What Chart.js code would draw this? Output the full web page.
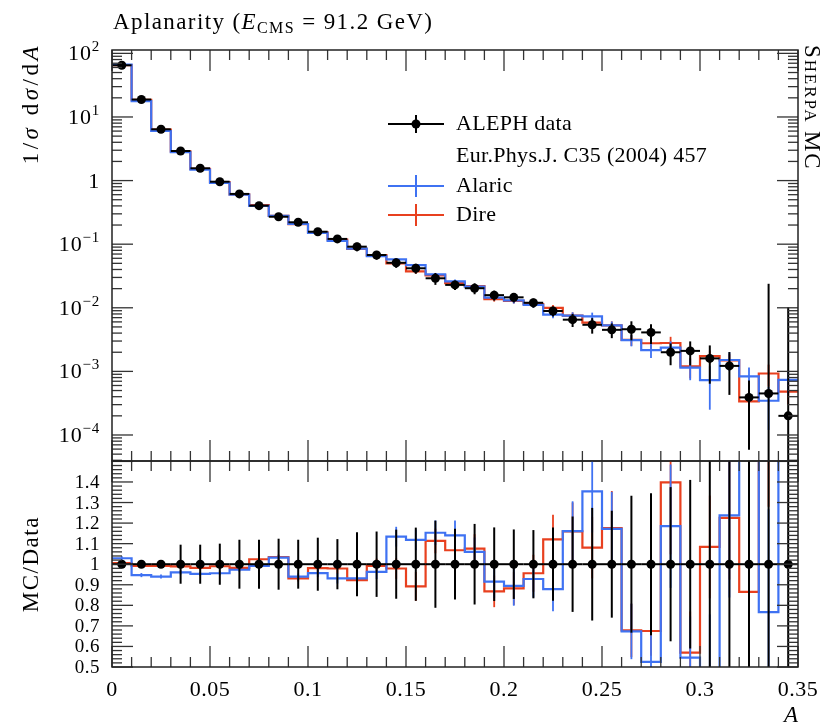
<!DOCTYPE html>
<html>
<head>
<meta charset="utf-8">
<script src="https://cdn.jsdelivr.net/npm/chart.js@4.4.0/dist/chart.umd.min.js"></script>
<style>
  body { margin: 0; background: #fff; width: 826px; height: 726px; position: relative; overflow: hidden; }
  canvas { position: absolute; left: 0; }
  #topChart { top: 0; }
  #ratioChart { top: 455px; }
</style>
</head>
<body>
<canvas id="topChart" width="826" height="470"></canvas>
<canvas id="ratioChart" width="826" height="271"></canvas>
<script>
// bins of A
const binEdges = [0, 0.01, 0.02, 0.03, 0.04, 0.05, 0.06, 0.07, 0.08, 0.09, 0.1, 0.11, 0.12, 0.13, 0.14, 0.15, 0.16, 0.17,
  0.18, 0.19, 0.2, 0.21, 0.22, 0.23, 0.24, 0.25, 0.26, 0.27, 0.28, 0.29, 0.3, 0.31, 0.32, 0.33, 0.34, 0.35];

// ALEPH data, 1/sigma dsigma/dA, and relative error
const alephData = [65, 18.8, 6.4, 2.92, 1.56, 0.96, 0.617, 0.403, 0.27, 0.221, 0.157, 0.121, 0.0914, 0.0676, 0.051,
  0.0418, 0.0291, 0.0229, 0.0203, 0.0158, 0.0146, 0.012, 0.0089, 0.0065, 0.0054, 0.0045, 0.0046, 0.0041, 0.002,
  0.0021, 0.0016, 0.00122, 0.00039, 0.00045, 0.0002];
const alephErr = [0.01, 0.01, 0.012, 0.095, 0.095, 0.1, 0.119, 0.119, 0.124, 0.119, 0.129, 0.122, 0.156, 0.159, 0.168,
  0.178, 0.212, 0.172, 0.196, 0.179, 0.169, 0.166, 0.178, 0.232, 0.274, 0.26, 0.333, 0.345, 0.375, 0.41, 0.6, 0.65,
  0.85, 52, 50];

// MC / data ratios and their errors
const alaricRatio = [1.029, 0.947, 0.94, 0.96, 0.953, 0.956, 0.973, 0.992, 1.032, 0.94, 0.957, 0.931, 0.931, 0.963,
  1.134, 1.118, 1.153, 1.14, 1.06, 0.915, 0.895, 0.928, 0.879, 1.161, 1.354, 1.172, 0.673, 0.525, 1.185, 0.546,
  0.456, 1.238, 2.14, 0.767, 3.68];
const alaricErr = [0.01, 0.01, 0.01, 0.01, 0.01, 0.01, 0.01, 0.01, 0.012, 0.015, 0.02, 0.025, 0.03, 0.035, 0.048,
  0.05, 0.06, 0.072, 0.07, 0.08, 0.097, 0.09, 0.108, 0.145, 0.2, 0.18, 0.135, 0.13, 0.3, 0.2, 0.3, 0.4, 0.8, 0.5, 1.5];
const direRatio = [1.005, 0.992, 0.992, 0.989, 0.982, 0.99, 0.982, 1.024, 1.035, 0.931, 0.981, 0.979, 0.923, 0.992,
  0.979, 0.892, 1.113, 1.068, 1.076, 0.868, 0.882, 0.956, 1.121, 1.16, 1.081, 1.176, 0.678, 0.675, 1.398, 0.57,
  1.084, 1.225, 0.865, 2.06, 2.41];
const direErr = [0.01, 0.01, 0.01, 0.01, 0.01, 0.01, 0.01, 0.01, 0.012, 0.015, 0.02, 0.025, 0.03, 0.035, 0.05,
  0.07, 0.06, 0.07, 0.07, 0.077, 0.08, 0.09, 0.12, 0.14, 0.15, 0.18, 0.13, 0.12, 0.35, 0.2, 0.25, 0.3, 0.3, 0.78, 0.9];

// axis ticks
const xTickValues = [0, 0.05, 0.1, 0.15, 0.2, 0.25, 0.3, 0.35];
const xTickLabels = ['0', '0.05', '0.1', '0.15', '0.2', '0.25', '0.3', '0.35'];
const logTickValues = [1e-4, 1e-3, 1e-2, 1e-1, 1, 10, 100];
const logTickLabels = ['10^\u22124', '10^\u22123', '10^\u22122', '10^\u22121', '1', '10^1', '10^2'];
const ratioTickValues = [0.5, 0.6, 0.7, 0.8, 0.9, 1, 1.1, 1.2, 1.3, 1.4];
const ratioTickLabels = ['0.5', '0.6', '0.7', '0.8', '0.9', '1', '1.1', '1.2', '1.3', '1.4'];

const FAM = '"Liberation Serif", "DejaVu Serif", serif';
const fnt = (s, it) => (it ? 'italic ' : '') + s + 'px ' + FAM;
const BLUE = '#3f72f2';
const RED = '#e8401f';

const binCenters = alephData.map((v, i) => (binEdges[i] + binEdges[i + 1]) / 2);

function histPoints(vals) {
  return binEdges.map((e, i) => ({ x: e, y: vals[Math.min(i, vals.length - 1)] }));
}

// draw a row of text pieces with own fonts, sp = letter spacing
function drawRuns(ctx, x, y, parts, align, sp) {
  ctx.letterSpacing = (sp || 0) + 'px';
  let w = 0;
  parts.forEach(p => { ctx.font = p.f; p.w = ctx.measureText(p.t).width; w += p.w; });
  let cx = align === 'right' ? x - w : (align === 'center' ? x - w / 2 : x);
  ctx.textAlign = 'left';
  parts.forEach(p => { ctx.font = p.f; ctx.fillText(p.t, cx, y + (p.dy || 0)); cx += p.w; });
  ctx.letterSpacing = '0px';
}

function line(ctx, x1, y1, x2, y2) {
  ctx.beginPath(); ctx.moveTo(x1, y1); ctx.lineTo(x2, y2); ctx.stroke();
}

// error bars, drawn under each dataset
const barsPlugin = {
  id: 'bars',
  beforeDatasetDraw(chart, args) {
    const ds = chart.data.datasets[args.index];
    if (!ds.bars) return;
    const ctx = chart.ctx, a = chart.chartArea, xs = chart.scales.x, ys = chart.scales.y;
    const py = v => (ys.type === 'logarithmic' && v <= 0) ? a.bottom + 20 : ys.getPixelForValue(v);
    ctx.save();
    ctx.beginPath(); ctx.rect(a.left, a.top, a.right - a.left, a.bottom - a.top); ctx.clip();
    ctx.strokeStyle = ds.borderColor;
    ctx.lineWidth = ds.barWidth;
    ds.bars.forEach(b => {
      const px = xs.getPixelForValue(b.x);
      line(ctx, px, py(b.lo), px, py(b.hi));
      if (b.x0 !== undefined) {
        line(ctx, xs.getPixelForValue(b.x0), py(b.y), xs.getPixelForValue(b.x1), py(b.y));
      }
    });
    ctx.restore();
  }
};

function drawXTicks(ctx, chart) {
  const a = chart.chartArea, xs = chart.scales.x;
  binEdges.forEach(v => {
    const p = xs.getPixelForValue(v);
    const L = xTickValues.some(t => Math.abs(t - v) < 1e-9) ? 21 : 10;
    line(ctx, p, a.top, p, a.top + L);
    line(ctx, p, a.bottom, p, a.bottom - L);
  });
}

const topDecor = {
  id: 'topDecor',
  afterDraw(chart) {
    const ctx = chart.ctx, a = chart.chartArea, ys = chart.scales.y;
    ctx.save();
    ctx.strokeStyle = '#333';
    ctx.lineWidth = 1.3;
    drawXTicks(ctx, chart);
    for (let e = -5; e <= 2; e++) {
      for (let m = 1; m <= 9; m++) {
        const v = m * Math.pow(10, e);
        if (v < ys.min || v > ys.max) continue;
        const p = ys.getPixelForValue(v);
        const L = m === 1 ? 21 : 10;
        line(ctx, a.left, p, a.left + L, p);
        line(ctx, a.right, p, a.right - L, p);
      }
    }
    ctx.strokeStyle = '#222';
    ctx.lineWidth = 1.5;
    ctx.strokeRect(a.left, a.top, a.right - a.left, a.bottom - a.top);

    ctx.fillStyle = '#000';
    ctx.textBaseline = 'alphabetic';
    logTickValues.forEach((v, i) => {
      const p = ys.getPixelForValue(v);
      const parts = logTickLabels[i].split('^');
      const runs = [{ t: parts[0], f: fnt(22) }];
      if (parts[1]) runs.push({ t: parts[1], f: fnt(15), dy: -9 });
      drawRuns(ctx, 100, p + 7, runs, 'right', 0.8);
    });

    // title
    drawRuns(ctx, 113, 29, [
      { t: 'Aplanarity (', f: fnt(23) },
      { t: 'E', f: fnt(23, true) },
      { t: 'CMS', f: fnt(16), dy: 4 },
      { t: ' = 91.2 GeV)', f: fnt(23) }
    ], 'left', 1.4);

    // y title
    ctx.save();
    ctx.translate(38, 43);
    ctx.rotate(-Math.PI / 2);
    drawRuns(ctx, 0, 0, [
      { t: '1/', f: fnt(23) }, { t: '\u03c3', f: fnt(23, true) }, { t: ' d', f: fnt(23) },
      { t: '\u03c3', f: fnt(23, true) }, { t: '/d', f: fnt(23) }, { t: 'A', f: fnt(23, true) }
    ], 'right', 3.5);
    ctx.restore();

    // generator label
    ctx.save();
    ctx.translate(805, 45);
    ctx.rotate(Math.PI / 2);
    drawRuns(ctx, 0, 0, [
      { t: 'S', f: fnt(23) }, { t: 'HERPA', f: fnt(17) }, { t: ' MC', f: fnt(23) }
    ], 'left', 1.9);
    ctx.restore();

    // legend
    ctx.lineWidth = 2;
    ctx.strokeStyle = '#000';
    line(ctx, 388, 124, 444, 124);
    line(ctx, 416, 115, 416, 133);
    ctx.beginPath(); ctx.arc(416, 124, 4.5, 0, 2 * Math.PI); ctx.fill();
    ctx.strokeStyle = BLUE;
    line(ctx, 388, 186, 444, 186);
    line(ctx, 416, 175, 416, 197);
    ctx.strokeStyle = RED;
    line(ctx, 388, 215, 444, 215);
    line(ctx, 416, 204, 416, 226);
    ctx.fillStyle = '#000';
    ctx.textBaseline = 'middle';
    [['ALEPH data', 124], ['Eur.Phys.J. C35 (2004) 457', 156], ['Alaric', 186], ['Dire', 215]].forEach(r => {
      drawRuns(ctx, 456, r[1], [{ t: r[0], f: fnt(22) }], 'left', 0.3);
    });
    ctx.restore();
  }
};

const ratioDecor = {
  id: 'ratioDecor',
  afterDraw(chart) {
    const ctx = chart.ctx, a = chart.chartArea, xs = chart.scales.x, ys = chart.scales.y;
    ctx.save();
    ctx.strokeStyle = '#333';
    ctx.lineWidth = 1.3;
    drawXTicks(ctx, chart);
    for (let k = 50; k <= 150; k += 2) {
      const p = ys.getPixelForValue(k / 100);
      const L = k % 10 === 0 ? 21 : 10;
      line(ctx, a.left, p, a.left + L, p);
      line(ctx, a.right, p, a.right - L, p);
    }
    ctx.strokeStyle = '#222';
    ctx.lineWidth = 1.5;
    ctx.strokeRect(a.left, a.top, a.right - a.left, a.bottom - a.top);

    ctx.fillStyle = '#000';
    ctx.textBaseline = 'middle';
    ratioTickValues.forEach((v, i) => {
      drawRuns(ctx, 100, ys.getPixelForValue(v) + 1, [{ t: ratioTickLabels[i], f: fnt(19) }], 'right', 0.5);
    });
    ctx.textBaseline = 'alphabetic';
    xTickValues.forEach((v, i) => {
      drawRuns(ctx, xs.getPixelForValue(v), a.bottom + 29, [{ t: xTickLabels[i], f: fnt(22) }], 'center', 0.5);
    });

    ctx.font = fnt(23, true);
    ctx.textAlign = 'right';
    ctx.fillText('A', a.right, a.bottom + 55);

    ctx.save();
    ctx.translate(38, ys.getPixelForValue(1));
    ctx.rotate(-Math.PI / 2);
    drawRuns(ctx, 0, 0, [{ t: 'MC/Data', f: fnt(23) }], 'center', 1.5);
    ctx.restore();
    ctx.restore();
  }
};

const baseOptions = (yScale, pad) => ({
  responsive: false,
  animation: false,
  events: [],
  layout: { padding: pad },
  plugins: { legend: { display: false }, tooltip: { enabled: false } },
  scales: {
    x: { type: 'linear', min: 0, max: 0.35, display: false },
    y: Object.assign({ display: false }, yScale)
  }
});

// top panel
const alaricTop = alephData.map((v, i) => v * alaricRatio[i]);
const direTop = alephData.map((v, i) => v * direRatio[i]);

new Chart(document.getElementById('topChart'), {
  type: 'line',
  data: {
    datasets: [
      {
        label: 'ALEPH data',
        data: binCenters.map((x, i) => ({ x: x, y: alephData[i] })),
        showLine: false,
        pointRadius: 4.5,
        pointBackgroundColor: '#000',
        pointBorderWidth: 0,
        borderColor: '#000',
        barWidth: 2,
        bars: binCenters.map((x, i) => ({
          x: x, lo: alephData[i] * (1 - alephErr[i]), hi: alephData[i] * (1 + alephErr[i]),
          x0: binEdges[i], x1: binEdges[i + 1], y: alephData[i]
        })),
        order: 0
      },
      {
        label: 'Alaric',
        data: histPoints(alaricTop),
        stepped: true,
        borderColor: BLUE,
        borderWidth: 2.2,
        pointRadius: 0,
        fill: false,
        clip: 0,
        barWidth: 1.8,
        bars: binCenters.map((x, i) => ({
          x: x, lo: alaricTop[i] - alephData[i] * alaricErr[i], hi: alaricTop[i] + alephData[i] * alaricErr[i]
        })),
        order: 1
      },
      {
        label: 'Dire',
        data: histPoints(direTop),
        stepped: true,
        borderColor: RED,
        borderWidth: 2.2,
        pointRadius: 0,
        fill: false,
        clip: 0,
        barWidth: 1.8,
        bars: binCenters.map((x, i) => ({
          x: x, lo: direTop[i] - alephData[i] * direErr[i], hi: direTop[i] + alephData[i] * direErr[i]
        })),
        order: 2
      }
    ]
  },
  options: baseOptions({ type: 'logarithmic', min: 3.9e-5, max: 113 }, { left: 112, right: 28, top: 50, bottom: 9 }),
  plugins: [barsPlugin, topDecor]
});

// ratio panel
new Chart(document.getElementById('ratioChart'), {
  type: 'line',
  data: {
    datasets: [
      {
        label: 'ALEPH data',
        data: binCenters.map(x => ({ x: x, y: 1 })),
        showLine: false,
        pointRadius: 4.5,
        pointBackgroundColor: '#000',
        pointBorderWidth: 0,
        borderColor: '#000',
        barWidth: 2,
        bars: binCenters.map((x, i) => ({
          x: x, lo: 1 - alephErr[i], hi: 1 + alephErr[i], x0: binEdges[i], x1: binEdges[i + 1], y: 1
        })),
        order: 0
      },
      {
        label: 'Alaric',
        data: histPoints(alaricRatio),
        stepped: true,
        borderColor: BLUE,
        borderWidth: 2.2,
        pointRadius: 0,
        fill: false,
        clip: 0,
        barWidth: 1.8,
        bars: binCenters.map((x, i) => ({ x: x, lo: alaricRatio[i] - alaricErr[i], hi: alaricRatio[i] + alaricErr[i] })),
        order: 1
      },
      {
        label: 'Dire',
        data: histPoints(direRatio),
        stepped: true,
        borderColor: RED,
        borderWidth: 2.2,
        pointRadius: 0,
        fill: false,
        clip: 0,
        barWidth: 1.8,
        bars: binCenters.map((x, i) => ({ x: x, lo: direRatio[i] - direErr[i], hi: direRatio[i] + direErr[i] })),
        order: 2
      }
    ]
  },
  options: baseOptions({ type: 'linear', min: 0.5, max: 1.502 }, { left: 112, right: 28, top: 6, bottom: 59 }),
  plugins: [barsPlugin, ratioDecor]
});
</script>
</body>
</html>
